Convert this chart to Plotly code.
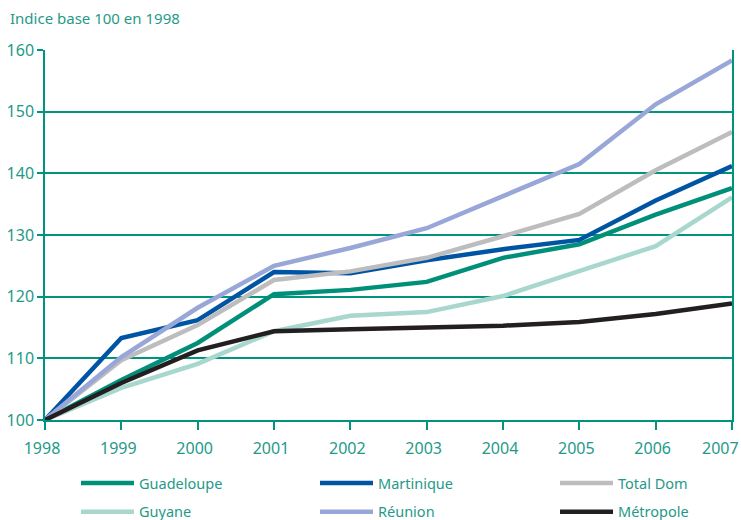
import plotly.graph_objects as go

years = [1998, 1999, 2000, 2001, 2002, 2003, 2004, 2005, 2006, 2007]
year_labels = [str(y) for y in years]
guadeloupe = [100, 106.5, 112.5, 120.4, 121.1, 122.4, 126.3, 128.5, 133.3, 137.6]
martinique = [100, 113.3, 116.2, 124.0, 123.8, 125.9, 127.7, 129.2, 135.6, 141.2]
total_dom = [100, 109.7, 115.4, 122.7, 124.1, 126.3, 129.8, 133.4, 140.5, 146.7]
guyane = [100, 105.2, 109.1, 114.4, 116.9, 117.5, 120.1, 124.1, 128.2, 136.1]
reunion = [100, 110.2, 118.2, 125.0, 127.9, 131.1, 136.3, 141.5, 151.2, 158.3]
metropole = [100, 106.0, 111.3, 114.4, 114.7, 115.0, 115.3, 115.9, 117.2, 118.9]

# (name, values, colour, legend column)
series = [
    ("Guadeloupe", guadeloupe, "#00907a", "legend"),
    ("Martinique", martinique, "#0054a4", "legend2"),
    ("Total Dom", total_dom, "#bdbdbf", "legend3"),
    ("Guyane", guyane, "#a7d7cd", "legend"),
    ("Réunion", reunion, "#98a7d8", "legend2"),
    ("Métropole", metropole, "#231f20", "legend3"),
]

teal = "#00937e"
text_col = "#1f9a88"
font_family = "Noto Sans, Open Sans, sans-serif"

fig = go.Figure()
for name, vals, col, leg in series:
    fig.add_trace(go.Scatter(x=years, y=vals, name=name, mode="lines", legend=leg,
                             legendgroup=name,
                             line=dict(color=col, width=4.5)))

def legend_at(xpx):
    return dict(orientation="v", xref="container", yref="container",
                x=xpx / 741, xanchor="left", y=1 - 467 / 520, yanchor="top",
                font=dict(size=14.5, color=text_col), itemwidth=53,
                tracegroupgap=7, bgcolor="rgba(0,0,0,0)", borderwidth=0)

# last year label is drawn right-aligned so it stays inside the page, as in the original
tick_text = year_labels[:-1] + [""]

fig.update_layout(
    width=741, height=520,
    margin=dict(l=45, r=9, t=50, b=100, autoexpand=False),
    paper_bgcolor="white", plot_bgcolor="white",
    font=dict(family=font_family, size=16, color=text_col),
    showlegend=True,
    legend=legend_at(76),
    legend2=legend_at(315),
    legend3=legend_at(555),
    annotations=[
        dict(text="Indice base 100 en 1998", xref="paper", yref="paper",
             x=-37 / 687, y=1.0 + 32 / 370, xanchor="left", yanchor="middle",
             showarrow=False, font=dict(size=15, color=text_col)),
        dict(text=year_labels[-1], xref="x", yref="paper", x=years[-1], y=0,
             xanchor="right", yanchor="middle", xshift=9, yshift=-28,
             showarrow=False, font=dict(size=16, color=text_col)),
    ],
)
fig.update_xaxes(range=[1998, 2007], tickvals=years, ticktext=tick_text,
                 showgrid=False, zeroline=False,
                 automargin=False, ticklabeloverflow="allow",
                 ticklabelshift=-3, ticklabelstandoff=5,
                 showline=True, linecolor=teal, linewidth=1.5,
                 ticks="outside", ticklen=8, tickcolor=teal, tickwidth=1.5,
                 tickfont=dict(size=16, color=text_col))
fig.update_yaxes(range=[100, 160], dtick=10, showgrid=True, gridcolor=teal, gridwidth=1.5,
                 automargin=False, ticklabeloverflow="allow",
                 zeroline=False, showline=True, linecolor=teal, linewidth=1.5, mirror=True,
                 ticks="outside", ticklen=6, tickcolor=teal, tickwidth=1.5,
                 tickfont=dict(size=16, color=text_col))

fig.write_html("out.html", config={"displayModeBar": False},
               post_script="document.body.style.margin='0';document.body.style.overflow='hidden';")
